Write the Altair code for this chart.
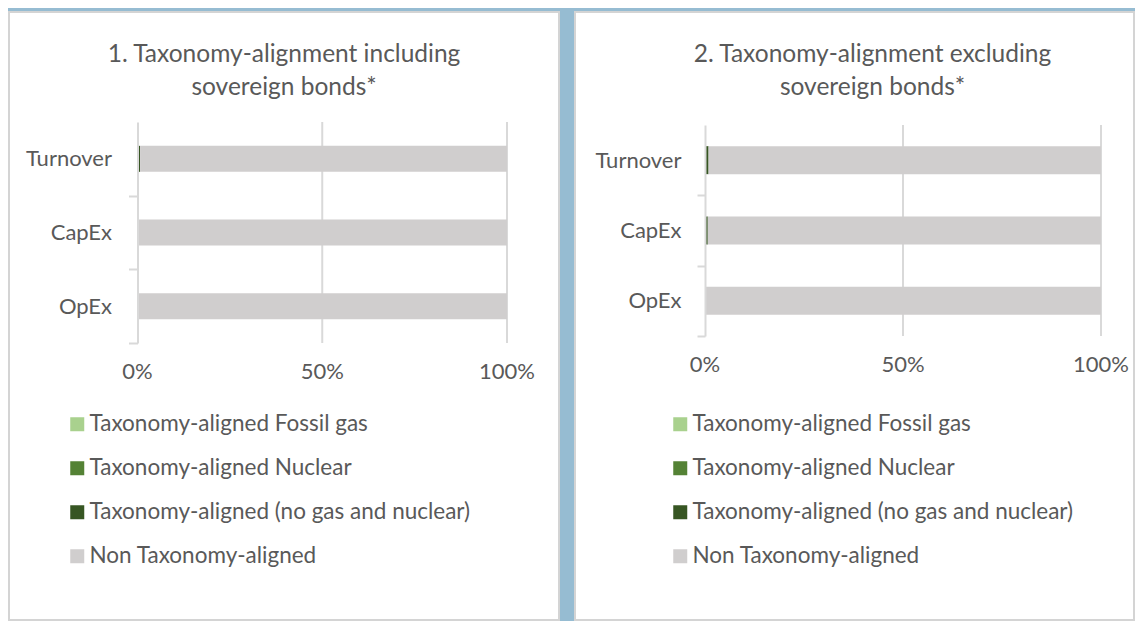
import altair as alt
import pandas as pd

# ---------------- data ----------------
categories = ["Turnover", "CapEx", "OpEx"]
series = [
    "Taxonomy-aligned Fossil gas",
    "Taxonomy-aligned Nuclear",
    "Taxonomy-aligned (no gas and nuclear)",
    "Non Taxonomy-aligned",
]
series_colors = ["#A9D18E", "#548235", "#375623", "#D0CECE"]

incl_fossil_gas = [0.0, 0.0, 0.0]
incl_nuclear = [0.0, 0.0, 0.0]
incl_aligned = [0.7, 0.4, 0.0]
incl_non_aligned = [99.3, 99.6, 100.0]

excl_fossil_gas = [0.0, 0.0, 0.0]
excl_nuclear = [0.0, 0.0, 0.0]
excl_aligned = [0.9, 0.7, 0.0]
excl_non_aligned = [99.1, 99.3, 100.0]

tick_values = [0, 50, 100]
grid_values = [50, 100]

title_incl = ["1. Taxonomy-alignment including", "sovereign bonds*"]
title_excl = ["2. Taxonomy-alignment excluding", "sovereign bonds*"]

FONT = "Lato"
TEXT = "#595959"
LINE = "#D9D9D9"


def long_table(cols):
    rows = []
    for s_idx, (name, vals) in enumerate(zip(series, cols)):
        for c, v in zip(categories, vals):
            rows.append({"category": c, "series": name, "order": s_idx, "value": v})
    return pd.DataFrame(rows)


def panel(df, title, W, H, x_range, y_range, pad_inner, y_tick, y_label_pad,
          x_label_dy, title_dx, title_offset, legend_x, legend_y):
    x_scale = alt.Scale(domain=[0, 100], range=x_range, nice=False)
    frac_scale = alt.Scale(domain=[0, 1], range=[y_range[1], y_range[0]])
    step = (y_range[1] - y_range[0]) / len(categories)

    grid = alt.Chart(pd.DataFrame({"v": grid_values})).mark_rule(
        color=LINE, strokeWidth=2
    ).encode(
        x=alt.X("v:Q", scale=x_scale, axis=None),
        y=alt.YDatum(0, type="quantitative", scale=frac_scale, axis=None),
        y2=alt.Y2Datum(1),
    )

    xlabels = alt.Chart(pd.DataFrame({"v": tick_values})).transform_calculate(
        label="datum.v + '%'"
    ).mark_text(
        font=FONT, fontSize=22, color=TEXT, baseline="middle", align="center",
        dy=x_label_dy,
    ).encode(
        x=alt.X("v:Q", scale=x_scale, axis=None),
        y=alt.YDatum(0, type="quantitative", scale=frac_scale, axis=None),
        text="label:N",
    )

    bars = alt.Chart(df).mark_bar().encode(
        x=alt.X("value:Q", stack="zero", scale=x_scale, axis=None),
        y=alt.Y(
            "category:N", sort=categories,
            scale=alt.Scale(range=y_range, paddingInner=pad_inner,
                            paddingOuter=pad_inner / 2),
            axis=alt.Axis(title=None, offset=-x_range[0],
                          tickOffset=step / 2, labelOffset=-step / 2,
                          tickSize=y_tick, labelPadding=y_label_pad,
                          domainColor=LINE, tickColor=LINE, domainWidth=2,
                          tickWidth=2, zindex=1, grid=False,
                          labelFont=FONT, labelFontSize=22, labelColor=TEXT),
        ),
        color=alt.Color(
            "series:N",
            scale=alt.Scale(domain=series, range=series_colors),
            legend=alt.Legend(title=None, orient="none", legendX=legend_x,
                              legendY=legend_y, symbolType="square",
                              symbolSize=196, symbolStrokeWidth=0,
                              labelOffset=1, rowPadding=21, padding=0,
                              labelLimit=600, labelFont=FONT,
                              labelFontSize=22.5, labelColor=TEXT),
        ),
        order=alt.Order("order:Q", sort="ascending"),
    )
    return alt.layer(grid, bars, xlabels).resolve_scale(y="independent").properties(
        width=W, height=H,
        title=alt.TitleParams(text=title, anchor="middle", offset=title_offset,
                              dx=title_dx, font=FONT, fontSize=24.5,
                              fontWeight="normal", color=TEXT, lineHeight=33),
    )


H = 608
p1 = panel(long_table([incl_fossil_gas, incl_nuclear, incl_aligned, incl_non_aligned]),
           title_incl, 550, H, [128.5, 498], [110, 331], 0.647, 9, 17, 29,
           0, -88, 57, 401)
p2 = panel(long_table([excl_fossil_gas, excl_nuclear, excl_aligned, excl_non_aligned]),
           title_excl, 559, H, [130, 526], [113, 324], 0.602, 8, 16, 29,
           18, -88, 94, 401)

chart = alt.hconcat(p1, p2, spacing=14).resolve_scale(
    color="independent"
).resolve_legend(color="independent").configure_view(
    fill="white", stroke="#D4D4D4", strokeWidth=2
).properties(
    background="#96BCD2",
    padding={"left": 0, "top": 3, "right": 0, "bottom": 0},
)

chart.save("out.html", embed_options={"renderer": "svg", "actions": False})
